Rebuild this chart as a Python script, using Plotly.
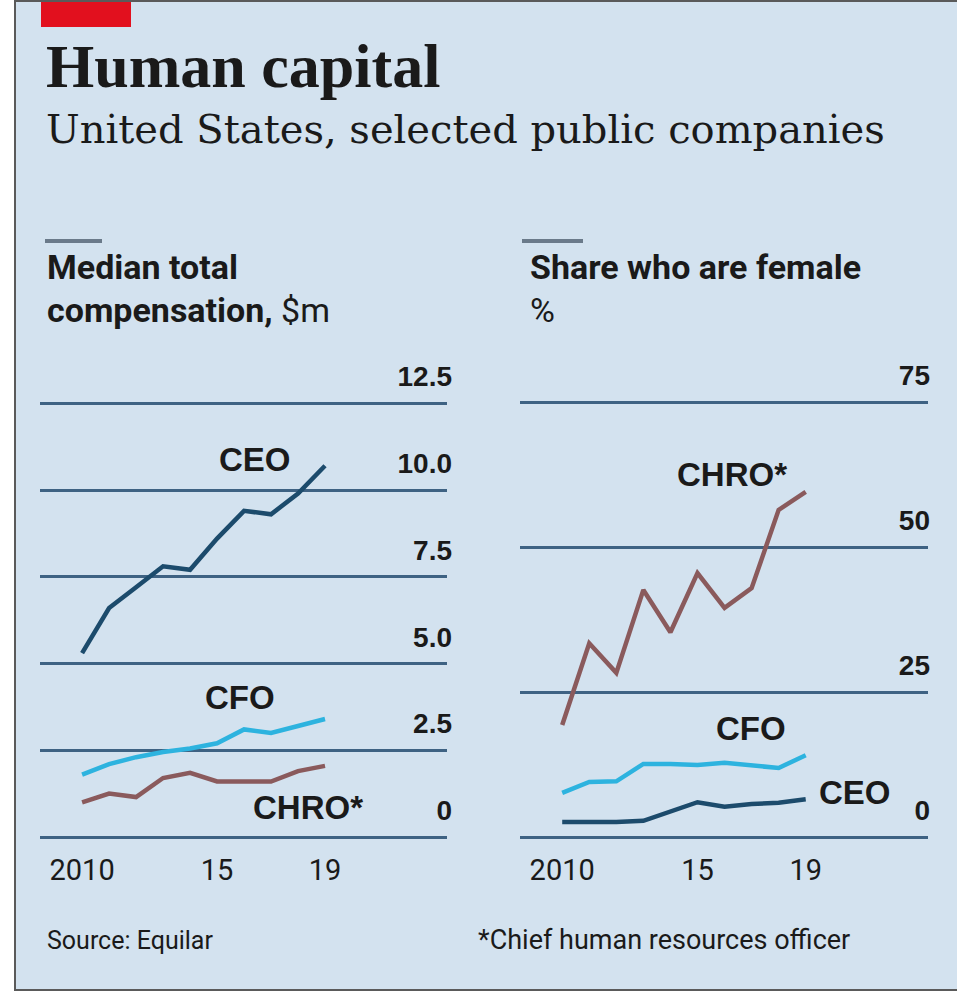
import plotly.graph_objects as go

W, H = 957, 994

years = [2010, 2011, 2012, 2013, 2014, 2015, 2016, 2017, 2018, 2019]

# Median total compensation, $m
pay_ceo = [5.3, 6.6, 7.2, 7.8, 7.7, 8.6, 9.4, 9.3, 9.9, 10.7]
pay_cfo = [1.8, 2.1, 2.3, 2.45, 2.55, 2.7, 3.1, 3.0, 3.2, 3.4]
pay_chro = [1.0, 1.25, 1.15, 1.7, 1.85, 1.6, 1.6, 1.6, 1.9, 2.05]

# Share who are female, %
fem_chro = [19.3, 33.4, 28.3, 42.6, 35.3, 45.5, 39.5, 42.9, 56.4, 59.5]
fem_cfo = [7.6, 9.5, 9.6, 12.6, 12.6, 12.4, 12.8, 12.4, 11.9, 14.1]
fem_ceo = [2.6, 2.6, 2.6, 2.8, 4.3, 6.0, 5.2, 5.7, 5.9, 6.5]

pay_ticks = [0, 2.5, 5, 7.5, 10, 12.5]
pay_ticktext = ["0", "2.5", "5.0", "7.5", "10.0", "12.5"]
fem_ticks = [0, 25, 50, 75]
fem_ticktext = ["0", "25", "50", "75"]
year_ticks = [2010, 2015, 2019]
year_ticktext = ["2010", "15", "19"]

C_CEO = "#1c4b6c"
C_CFO = "#2db3df"
C_CHRO = "#8a5a5c"
C_GRID = "#3e6283"
BG = "#d3e2ef"


def X(px):
    return px / W


def Y(py):
    return 1 - py / H


fig = go.Figure()

lw = 4.5
fig.add_trace(go.Scatter(x=years, y=pay_ceo, mode="lines", line=dict(color=C_CEO, width=lw), xaxis="x", yaxis="y"))
fig.add_trace(go.Scatter(x=years, y=pay_cfo, mode="lines", line=dict(color=C_CFO, width=lw), xaxis="x", yaxis="y"))
fig.add_trace(go.Scatter(x=years, y=pay_chro, mode="lines", line=dict(color=C_CHRO, width=lw), xaxis="x", yaxis="y"))
fig.add_trace(go.Scatter(x=years, y=fem_chro, mode="lines", line=dict(color=C_CHRO, width=lw), xaxis="x2", yaxis="y2"))
fig.add_trace(go.Scatter(x=years, y=fem_cfo, mode="lines", line=dict(color=C_CFO, width=lw), xaxis="x2", yaxis="y2"))
fig.add_trace(go.Scatter(x=years, y=fem_ceo, mode="lines", line=dict(color=C_CEO, width=lw), xaxis="x2", yaxis="y2"))

tick_font = dict(family="Liberation Sans", size=28, color="#1a1a1a", weight="bold")
xtick_font = dict(family="Roboto", size=29, color="#1a1a1a")

xcommon = dict(range=[2008.44, 2023.52], tickvals=year_ticks, ticktext=year_ticktext,
               showgrid=False, zeroline=False, showline=False, ticks="",
               tickfont=xtick_font, fixedrange=True)
ycommon = dict(showgrid=True, gridcolor=C_GRID, gridwidth=3, zeroline=False, showline=False,
               side="right", anchor="free", ticklabelposition="inside top", ticklabelshift=-7,
               tickfont=tick_font, ticks="", fixedrange=True)

TOP, BOT = 340, 850
ydom = [Y(BOT), Y(TOP)]
fig.update_layout(
    width=W, height=H,
    margin=dict(l=0, r=0, t=0, b=0),
    paper_bgcolor="white",
    plot_bgcolor="rgba(0,0,0,0)",
    showlegend=False,
    xaxis=dict(domain=[X(40), X(447)], anchor="y", **xcommon),
    xaxis2=dict(domain=[X(520), X(928)], anchor="y2", **xcommon),
    yaxis=dict(domain=ydom, range=[(837 - BOT) / 34.7, (837 - TOP) / 34.7],
               tickvals=pay_ticks, ticktext=pay_ticktext, position=X(455), **ycommon),
    yaxis2=dict(domain=ydom, range=[(837 - BOT) / 5.8, (837 - TOP) / 5.8],
                tickvals=fem_ticks, ticktext=fem_ticktext, position=X(933), **ycommon),
)

shapes = [
    dict(type="rect", xref="paper", yref="paper", x0=X(15), x1=X(962), y0=Y(990), y1=Y(1),
         fillcolor=BG, line=dict(color="#5a5a5a", width=2), layer="below"),
    dict(type="rect", xref="paper", yref="paper", x0=X(41), x1=X(131), y0=Y(27), y1=Y(2),
         fillcolor="#e2101e", line=dict(width=0), layer="below"),
    dict(type="line", xref="paper", yref="paper", x0=X(45), x1=X(102), y0=Y(241), y1=Y(241),
         line=dict(color="#6a7a8a", width=4)),
    dict(type="line", xref="paper", yref="paper", x0=X(522), x1=X(583), y0=Y(241), y1=Y(241),
         line=dict(color="#6a7a8a", width=4)),
]
fig.update_layout(shapes=shapes)


def ann(text, px, py, size, family, xanchor="left", yanchor="middle", color="#1a1a1a"):
    f = dict(family=family, size=size, color=color)
    return dict(text=text, x=X(px), y=Y(py), xref="paper", yref="paper", showarrow=False,
                xanchor=xanchor, yanchor=yanchor, align="left", font=f)


lab = "Liberation Sans"
annotations = [
    ann("<b>Human capital</b>", 44, 66, 62, "Liberation Serif"),
    ann("United States, selected public companies", 44, 129, 40, "DejaVu Serif"),
    ann("<b>Median total</b>", 45, 267, 34, "Roboto"),
    ann("<b>compensation,</b> $m", 45, 310, 34, "Roboto"),
    ann("<b>Share who are female</b>", 528, 267, 34, "Roboto"),
    ann("%", 528, 310, 34, "Roboto"),
    ann("<b>CEO</b>", 255, 459, 33, lab, xanchor="center"),
    ann("<b>CFO</b>", 240, 697, 33, lab, xanchor="center"),
    ann("<b>CHRO*</b>", 308, 807, 33, lab, xanchor="center"),
    ann("<b>CHRO*</b>", 732, 474, 33, lab, xanchor="center"),
    ann("<b>CFO</b>", 751, 728, 33, lab, xanchor="center"),
    ann("<b>CEO</b>", 855, 792, 33, lab, xanchor="center"),
    ann("Source: Equilar", 45, 940, 25, "Roboto"),
    ann("*Chief human resources officer", 476, 940, 27, "Roboto"),
]
fig.update_layout(annotations=annotations)

fig.write_html("out.html", config={"displayModeBar": False},
               post_script="document.body.style.margin='0';document.body.style.overflow='hidden';")
